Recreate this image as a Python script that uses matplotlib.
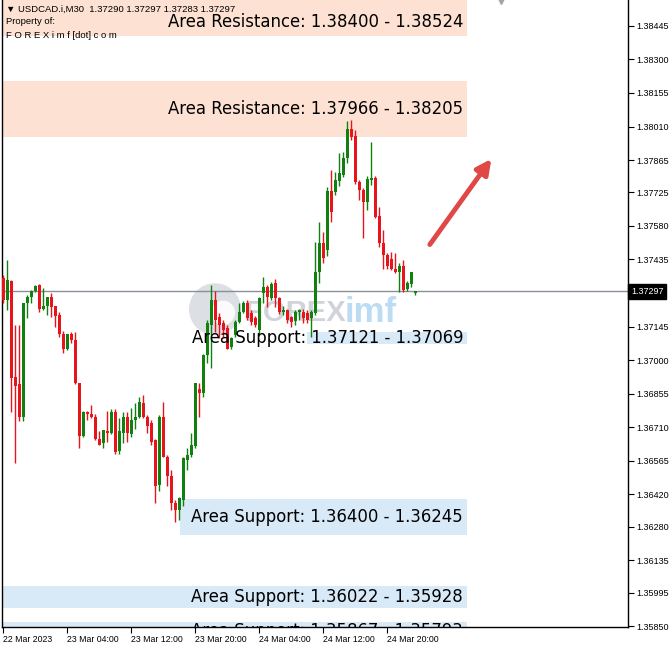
import numpy as np
import matplotlib.pyplot as plt
import matplotlib.transforms as mtransforms
from matplotlib.patches import Ellipse

# %% Datos (USDCAD M30, 22 Mar 20:00 -> 24 Mar 23:30)
opens = [1.37353, 1.37258, 1.37340, 1.36925, 1.36895, 1.36752, 1.37245, 1.37271, 1.37297, 1.37323,
         1.37219, 1.37232, 1.37271, 1.37232, 1.37193, 1.37115, 1.37046, 1.37111, 1.37089, 1.36899,
         1.36670, 1.36774, 1.36769, 1.36752, 1.36661, 1.36640, 1.36692, 1.36683, 1.36774, 1.36605,
         1.36683, 1.36752, 1.36679, 1.36743, 1.36752, 1.36813, 1.36756, 1.36726, 1.36653, 1.36458,
         1.36756, 1.36583, 1.36501, 1.36380, 1.36354, 1.36393, 1.36570, 1.36588, 1.36627, 1.36877,
         1.36856, 1.37020, 1.37150, 1.37258, 1.37185, 1.37159, 1.37137, 1.37055, 1.37107, 1.37163,
         1.37206, 1.37245, 1.37202, 1.37180, 1.37128, 1.37288, 1.37314, 1.37267, 1.37332, 1.37267,
         1.37206, 1.37215, 1.37185, 1.37167, 1.37206, 1.37206, 1.37202, 1.37180, 1.37202, 1.37379,
         1.37505, 1.37474, 1.37730, 1.37725, 1.37773, 1.37799, 1.37872, 1.37998, 1.37967, 1.37768,
         1.37734, 1.37682, 1.37777, 1.37786, 1.37621, 1.37505, 1.37453, 1.37435, 1.37396, 1.37383,
         1.37409, 1.37306, 1.37327, 1.37290]
highs = [1.37366, 1.37431, 1.37345, 1.37150, 1.37150, 1.37245, 1.37280, 1.37301, 1.37323, 1.37327,
         1.37310, 1.37275, 1.37288, 1.37236, 1.37206, 1.37124, 1.37115, 1.37120, 1.37120, 1.36899,
         1.36778, 1.36778, 1.36808, 1.36769, 1.36692, 1.36696, 1.36778, 1.36787, 1.36787, 1.36748,
         1.36774, 1.36774, 1.36795, 1.36813, 1.36839, 1.36847, 1.36761, 1.36739, 1.36661, 1.36761,
         1.36821, 1.36588, 1.36523, 1.36393, 1.36410, 1.36583, 1.36622, 1.36683, 1.36903, 1.36899,
         1.37025, 1.37172, 1.37323, 1.37297, 1.37202, 1.37172, 1.37150, 1.37102, 1.37172, 1.37245,
         1.37254, 1.37262, 1.37215, 1.37189, 1.37275, 1.37358, 1.37323, 1.37336, 1.37349, 1.37275,
         1.37236, 1.37223, 1.37189, 1.37215, 1.37223, 1.37219, 1.37215, 1.37215, 1.37509, 1.37595,
         1.37552, 1.37747, 1.37820, 1.37812, 1.37894, 1.37898, 1.38032, 1.38037, 1.37993, 1.37777,
         1.37742, 1.37794, 1.37941, 1.37794, 1.37660, 1.37561, 1.37461, 1.37466, 1.37461, 1.37418,
         1.37431, 1.37340, 1.37383, 1.37297]
lows = [1.37245, 1.37215, 1.36774, 1.36557, 1.36735, 1.36735, 1.37180, 1.37249, 1.37293, 1.37206,
        1.37215, 1.37193, 1.37185, 1.37141, 1.37098, 1.37029, 1.37042, 1.37076, 1.36895, 1.36622,
        1.36666, 1.36739, 1.36748, 1.36653, 1.36631, 1.36622, 1.36644, 1.36679, 1.36596, 1.36596,
        1.36640, 1.36644, 1.36666, 1.36704, 1.36748, 1.36748, 1.36683, 1.36631, 1.36384, 1.36432,
        1.36579, 1.36454, 1.36350, 1.36302, 1.36307, 1.36371, 1.36523, 1.36583, 1.36622, 1.36752,
        1.36839, 1.36986, 1.36968, 1.37120, 1.37094, 1.37098, 1.37046, 1.37046, 1.37098, 1.37159,
        1.37202, 1.37172, 1.37150, 1.37141, 1.37107, 1.37249, 1.37228, 1.37258, 1.37228, 1.37198,
        1.37193, 1.37159, 1.37141, 1.37150, 1.37172, 1.37159, 1.37159, 1.37098, 1.37193, 1.37332,
        1.37418, 1.37448, 1.37595, 1.37712, 1.37751, 1.37790, 1.37851, 1.37950, 1.37760, 1.37691,
        1.37526, 1.37647, 1.37755, 1.37613, 1.37487, 1.37396, 1.37392, 1.37388, 1.37375, 1.37293,
        1.37293, 1.37297, 1.37314, 1.37283]
closes = [1.37258, 1.37345, 1.36921, 1.36890, 1.36752, 1.37245, 1.37275, 1.37297, 1.37319, 1.37219,
          1.37236, 1.37271, 1.37228, 1.37189, 1.37115, 1.37046, 1.37111, 1.37085, 1.36899, 1.36670,
          1.36774, 1.36765, 1.36752, 1.36657, 1.36635, 1.36696, 1.36683, 1.36774, 1.36601, 1.36692,
          1.36752, 1.36683, 1.36743, 1.36752, 1.36817, 1.36752, 1.36717, 1.36648, 1.36454, 1.36756,
          1.36579, 1.36497, 1.36380, 1.36354, 1.36402, 1.36575, 1.36588, 1.36631, 1.36899, 1.36856,
          1.37020, 1.37159, 1.37258, 1.37172, 1.37150, 1.37128, 1.37050, 1.37094, 1.37163, 1.37206,
          1.37245, 1.37180, 1.37163, 1.37150, 1.37267, 1.37314, 1.37271, 1.37327, 1.37267, 1.37206,
          1.37215, 1.37172, 1.37163, 1.37206, 1.37215, 1.37180, 1.37172, 1.37206, 1.37379, 1.37505,
          1.37440, 1.37730, 1.37639, 1.37777, 1.37807, 1.37872, 1.37998, 1.37963, 1.37768, 1.37734,
          1.37682, 1.37781, 1.37786, 1.37617, 1.37505, 1.37453, 1.37409, 1.37396, 1.37383, 1.37409,
          1.37301, 1.37332, 1.37379, 1.37297]

last_price = 1.37297

time_ticks = [0, 16, 32, 48, 64, 80, 96]
time_labels = ["22 Mar 2023", "23 Mar 04:00", "23 Mar 12:00", "23 Mar 20:00",
               "24 Mar 04:00", "24 Mar 12:00", "24 Mar 20:00"]

price_ticks = [1.38445, 1.38300, 1.38155, 1.38010, 1.37865, 1.37725, 1.37580, 1.37435,
               1.37145, 1.37000, 1.36855, 1.36710, 1.36565, 1.36420, 1.36280, 1.36135,
               1.35995, 1.35850]

# zonas (el rectángulo de arriba está dibujado hasta el borde del gráfico)
zone_low = [1.38400, 1.37966, 1.37069, 1.36245, 1.35928, 1.35793]
zone_high = [1.38524, 1.38205, 1.37121, 1.36400, 1.36022, 1.35867]
zone_box_top = [1.38560, 1.38205, 1.37121, 1.36400, 1.36022, 1.35867]
zone_start = [-0.25, 0.0, 76.0, 44.25, 0.0, 0.0]
zone_end = [116.0, 116.0, 116.0, 116.0, 116.0, 116.0]
zone_text = ["Area Resistance: 1.38400 - 1.38524",
             "Area Resistance: 1.37966 - 1.38205",
             "Area Support: 1.37121 - 1.37069",
             "Area Support: 1.36400 - 1.36245",
             "Area Support: 1.36022 - 1.35928",
             "Area Support: 1.35867 - 1.35793"]
zone_kind = ["res", "res", "sup", "sup", "sup", "sup"]

# %% Figura
fig = plt.figure(figsize=(6.72, 6.48), dpi=100)
ax = fig.add_axes([2/672, 21/648, 626/672, 627/648])
ax.set_xlim(-0.25, 156.25)
ax.set_ylim(1.35846, 1.38557)

col_up = '#118011'
col_dn = '#e8141c'
col_res = '#fde1d3'
col_sup = '#d8e9f8'
small = 'Liberation Sans'

# zonas
for lo, hi, top, x0, x1, txt, k in zip(zone_low, zone_high, zone_box_top, zone_start,
                                        zone_end, zone_text, zone_kind):
    ax.fill_between([x0, x1], lo, top, color=col_res if k == "res" else col_sup, lw=0, zorder=0)
    ax.text(x1 - 1.0, (lo + hi) / 2, txt, ha='right', va='center', fontsize=11.9,
            color='black', zorder=5, clip_on=True)

# marca de agua
ax.add_patch(Ellipse((53.0, 1.37220), 13.0, 0.00225, color='#d4d7de', alpha=0.8, lw=0, zorder=1))
ax.add_patch(Ellipse((55.0, 1.37205), 6.0, 0.00105, color='white', alpha=0.9, lw=0, zorder=1))
ax.text(60.5, 1.37205, "FOREX", fontsize=21, fontweight='bold', fontfamily=small,
        color='#d0d3da', ha='left', va='center', zorder=1)
ax.text(85.5, 1.37205, "imf", fontsize=25, fontweight='bold', fontfamily=small,
        color='#bcdcf3', ha='left', va='center', zorder=1)

# línea de precio actual
ax.axhline(last_price, color='#8a9099', lw=1, zorder=2)

# velas
idx = np.arange(len(opens))
o = np.array(opens)
c = np.array(closes)
h = np.array(highs)
l = np.array(lows)
up = c >= o
colors = np.where(up, col_up, col_dn)
ax.vlines(idx, l, h, colors=colors, lw=1, zorder=3)
body_lo = np.minimum(o, c)
body_h = np.maximum(np.abs(c - o), 0.00003)
ax.bar(idx, body_h, bottom=body_lo, width=0.75, color=colors, lw=0, zorder=4)

# flecha
ax.annotate('', xy=(122.5, 1.37880), xytext=(106.3, 1.37490),
            arrowprops=dict(arrowstyle='-|>', color='#e04848', lw=3.5, mutation_scale=22),
            zorder=6)

# marca de desplazamiento arriba
ax.plot([124.5], [1.38552], marker='v', ms=4.5, color='#a0a6ae', clip_on=False, zorder=7)

# ejes
ax.spines['top'].set_visible(False)
for s in ['left', 'right', 'bottom']:
    ax.spines[s].set_linewidth(1)
ax.yaxis.tick_right()
ax.set_yticks(price_ticks)
ax.set_yticklabels([f"{p:.5f}" for p in price_ticks], fontfamily=small)
ax.tick_params(axis='y', length=4, width=0.8, labelsize=6.5, pad=2)
ax.set_xticks(time_ticks)
ax.set_xticklabels(time_labels, ha='left', fontfamily=small)
ax.tick_params(axis='x', length=4, width=0.8, labelsize=6.3, pad=2)

# etiqueta de precio actual
trans = mtransforms.blended_transform_factory(ax.transAxes, ax.transData)
ax.text(1.005, last_price, "1.37297", transform=trans, ha='left', va='center',
        fontsize=6.5, fontfamily=small, color='white', zorder=7, clip_on=False,
        bbox=dict(boxstyle='square,pad=0.3', fc='black', ec='black'))

# cabecera
fig.text(6/672, 1 - 9/648, "\u25bc USDCAD.i,M30  1.37290 1.37297 1.37283 1.37297",
         fontsize=6.8, fontfamily=small, va='center', ha='left')
fig.text(6/672, 1 - 22/648, "Property of:", fontsize=6.8, fontfamily=small, va='center', ha='left')
fig.text(6/672, 1 - 35/648, "F O R E X i m f [dot] c o m", fontsize=6.8, fontfamily=small,
         va='center', ha='left')

fig.savefig("out.png", dpi=100)
